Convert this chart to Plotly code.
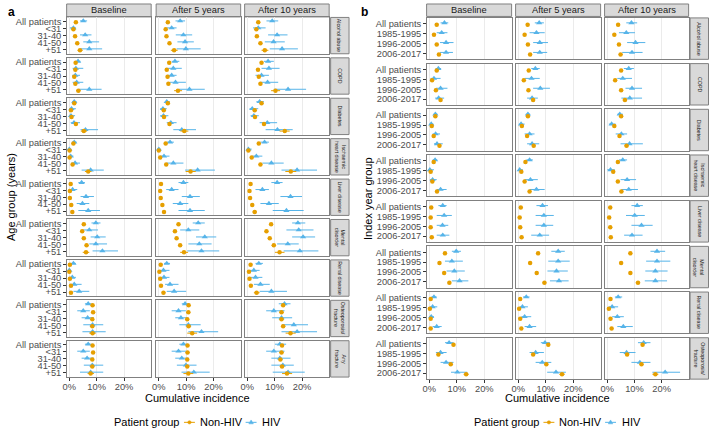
import plotly.graph_objects as go

W, H = 709, 431
FONT = "Liberation Sans, Arial, Helvetica, sans-serif"
C_NON = "#E69F00"
C_HIV = "#56B4E9"
GRID = "#EBEBEB"
BORDER = "#808080"
STRIP_FILL = "#D9D9D9"

PERIODS = ["Baseline", "After 5 years", "After 10 years"]
TICK_VALS = [0, 10, 20]
TICK_TEXT = ["0%", "10%", "20%"]
LEGEND_TITLE = "Patient group"
SERIES_NAMES = ["Non-HIV", "HIV"]

# ---------------- Panel a: by age group ----------------
A_CONDITIONS = ["Alcohol abuse", "COPD", "Diabetes", "Ischaemic<br>heart disease", "Liver disease",
                "Mental<br>disorder", "Renal disease", "Osteoporosis/<br>fracture", "Any<br>fracture"]
A_GROUPS = ["All patients", "<31", "31-40", "41-50", "+51"]

# Non-HIV, baseline (rows = conditions, cols = age groups), percent
A_NON_EST_BASE = [[2.4, 1.5, 2.1, 2.9, 3.9], [2.3, 2.2, 1.8, 2.2, 3.3], [1.8, 0.6, 0.8, 2.4, 5.3],
                  [1.5, 0.1, 0.1, 1.2, 6.9], [0.5, 0.2, 0.2, 0.7, 1.1], [5.3, 4.7, 5.3, 6.3, 6.1],
                  [0.2, 0.0, 0.2, 0.6, 0.6], [8.5, 8.7, 8.4, 8.4, 8.5], [8.5, 8.7, 8.4, 8.4, 7.8]]
A_NON_LO_BASE = [[2.2, 1.1, 1.8, 2.5, 3.0], [2.1, 1.8, 1.5, 1.8, 2.5], [1.6, 0.4, 0.6, 2.0, 4.2],
                 [1.3, 0.0, 0.0, 0.9, 5.7], [0.4, 0.1, 0.1, 0.5, 0.6], [5.0, 4.2, 4.9, 5.7, 4.9],
                 [0.1, 0.0, 0.1, 0.4, 0.2], [8.2, 8.1, 8.0, 7.8, 7.3], [8.2, 8.1, 8.0, 7.8, 6.7]]
A_NON_HI_BASE = [[2.6, 1.9, 2.4, 3.3, 4.9], [2.5, 2.6, 2.1, 2.6, 4.2], [2.0, 0.8, 1.0, 2.8, 6.5],
                 [1.7, 0.2, 0.3, 1.5, 8.1], [0.6, 0.3, 0.3, 0.9, 1.6], [5.6, 5.2, 5.7, 6.9, 7.3],
                 [0.3, 0.1, 0.3, 0.8, 1.0], [8.8, 9.3, 8.8, 9.0, 9.7], [8.8, 9.3, 8.8, 9.0, 9.0]]
A_HIV_EST_BASE = [[5.1, 1.5, 5.8, 7.3, 7.3], [3.2, 2.4, 2.2, 2.7, 7.3], [1.8, 0.8, 0.6, 1.7, 5.9],
                  [1.8, 0.0, 0.5, 2.1, 7.8], [4.5, 1.2, 6.1, 4.8, 6.9], [9.7, 7.3, 10.2, 9.7, 12.1],
                  [1.5, 0.0, 1.1, 1.8, 3.6], [6.9, 5.1, 6.7, 8.5, 8.5], [6.9, 5.1, 6.5, 8.4, 7.8]]
A_HIV_LO_BASE = [[3.9, 0.2, 3.9, 5.1, 4.1], [2.2, 1.2, 1.0, 1.2, 3.6], [1.0, 0.0, 0.0, 0.5, 4.1],
                 [1.0, 0.0, 0.0, 0.7, 4.5], [3.3, 0.0, 4.1, 2.7, 3.3], [8.1, 5.1, 7.8, 7.3, 8.5],
                 [0.5, 0.0, 0.0, 0.2, 1.5], [5.7, 2.9, 4.5, 5.1, 4.8], [5.7, 2.9, 4.5, 5.3, 3.9]]
A_HIV_HI_BASE = [[6.5, 2.4, 8.1, 10.9, 12.0], [4.1, 5.1, 3.9, 5.1, 11.8], [2.7, 2.4, 2.1, 3.9, 10.5],
                 [2.7, 0.4, 1.5, 3.9, 12.6], [5.7, 2.9, 9.0, 7.3, 11.2], [11.4, 10.5, 13.3, 13.8, 17.8],
                 [2.4, 0.5, 2.4, 4.5, 7.3], [8.1, 7.5, 9.0, 12.4, 13.3], [8.1, 7.5, 9.0, 12.4, 12.4]]

A_NON_EST_5Y = [[3.3, 2.5, 2.8, 3.9, 5.6], [3.8, 2.9, 3.2, 3.5, 7.0], [3.3, 1.8, 1.9, 3.9, 9.3],
                [2.5, 0.0, 0.5, 2.7, 11.6], [0.8, 0.5, 0.7, 1.3, 1.9], [7.2, 5.9, 6.5, 7.8, 9.2],
                [0.7, 0.2, 0.5, 0.8, 1.7], [10.9, 10.8, 10.4, 10.9, 12.2], [10.5, 10.5, 10.4, 10.4, 10.8]]
A_NON_LO_5Y = [[3.1, 2.1, 2.4, 3.4, 4.4], [3.6, 2.5, 2.8, 3.0, 5.6], [3.1, 1.5, 1.6, 3.4, 7.9],
               [2.3, 0.0, 0.3, 2.3, 9.8], [0.7, 0.3, 0.5, 1.0, 1.3], [6.9, 5.3, 6.0, 7.1, 7.8],
               [0.6, 0.1, 0.3, 0.6, 1.1], [10.6, 10.1, 9.9, 10.2, 10.4], [10.2, 9.8, 9.9, 9.7, 9.0]]
A_NON_HI_5Y = [[3.5, 2.9, 3.2, 4.4, 6.9], [4.0, 3.3, 3.6, 4.0, 8.5], [3.5, 2.1, 2.2, 4.4, 10.8],
               [2.7, 0.2, 0.7, 3.1, 13.5], [0.9, 0.7, 0.9, 1.6, 2.6], [7.5, 6.5, 7.0, 8.5, 10.7],
               [0.8, 0.3, 0.7, 1.0, 2.4], [11.2, 11.5, 10.9, 11.6, 14.0], [10.8, 11.2, 10.9, 11.1, 12.6]]
A_HIV_EST_5Y = [[7.8, 4.7, 9.0, 9.6, 9.9], [5.9, 5.3, 4.7, 6.1, 11.2], [2.9, 1.5, 1.7, 4.4, 8.4],
                [4.1, 0.0, 1.9, 5.3, 14.2], [9.0, 4.7, 11.4, 7.8, 11.4], [14.4, 10.8, 16.8, 14.8, 15.6],
                [2.9, 1.7, 1.9, 4.1, 5.6], [9.6, 7.2, 8.1, 10.8, 15.6], [9.0, 7.2, 8.4, 9.9, 12.8]]
A_HIV_LO_5Y = [[6.1, 2.9, 6.2, 6.8, 6.5], [4.7, 3.2, 3.2, 4.1, 7.4], [2.2, 0.5, 0.5, 2.9, 5.3],
               [2.9, 0.0, 0.5, 2.9, 9.6], [7.2, 2.7, 8.4, 5.1, 7.2], [12.4, 7.8, 13.6, 10.8, 10.4],
               [1.9, 0.5, 0.7, 2.3, 2.9], [8.4, 4.7, 6.0, 7.5, 10.8], [7.5, 4.7, 6.0, 6.6, 8.3]]
A_HIV_HI_5Y = [[9.6, 6.5, 12.2, 12.8, 15.3], [7.5, 8.4, 6.5, 9.9, 16.8], [4.1, 2.9, 3.5, 6.5, 13.6],
               [5.5, 0.5, 3.9, 9.0, 20.5], [10.8, 7.2, 15.0, 10.8, 16.8], [16.8, 14.8, 21.0, 19.3, 22.1],
               [4.1, 3.9, 3.9, 7.2, 10.0], [11.2, 9.9, 10.4, 15.3, 21.7], [10.5, 9.9, 10.8, 13.8, 18.6]]

A_NON_EST_10Y = [[4.0, 3.3, 3.5, 4.8, 6.4], [5.2, 3.9, 4.2, 4.8, 10.3], [5.2, 2.7, 2.8, 6.1, 13.7],
                 [4.2, 0.4, 1.6, 4.8, 15.9], [1.2, 0.8, 1.0, 1.8, 2.7], [8.7, 7.0, 8.2, 9.7, 11.8],
                 [1.2, 0.6, 0.8, 1.3, 3.4], [13.1, 12.5, 12.5, 13.1, 15.8], [12.7, 12.5, 12.1, 12.7, 14.5]]
A_NON_LO_10Y = [[3.8, 2.8, 3.1, 4.2, 5.2], [5.0, 3.4, 3.8, 4.2, 8.7], [5.0, 2.3, 2.4, 5.5, 11.8],
                [4.0, 0.2, 1.3, 4.2, 13.9], [1.1, 0.6, 0.8, 1.4, 1.9], [8.4, 6.4, 7.7, 8.9, 10.1],
                [1.1, 0.4, 0.6, 1.0, 2.4], [12.8, 11.7, 11.9, 12.3, 14.0], [12.4, 11.7, 11.5, 11.9, 12.7]]
A_NON_HI_10Y = [[4.2, 3.8, 3.9, 5.4, 7.7], [5.4, 4.4, 4.6, 5.4, 12.0], [5.4, 3.1, 3.2, 6.7, 15.5],
                [4.4, 0.6, 1.9, 5.4, 17.9], [1.3, 1.0, 1.2, 2.2, 3.5], [9.0, 7.6, 8.7, 10.5, 13.6],
                [1.3, 0.8, 1.0, 1.6, 4.5], [13.4, 13.3, 13.1, 13.9, 17.7], [13.0, 13.3, 12.7, 13.5, 16.4]]
A_HIV_EST_10Y = [[9.1, 4.0, 10.9, 9.6, 12.7], [7.6, 7.9, 5.2, 7.4, 14.9], [4.5, 1.8, 2.4, 7.3, 11.0],
                 [6.3, 0.4, 3.3, 8.8, 18.2], [10.9, 5.5, 15.8, 7.9, 14.3], [18.5, 18.8, 20.4, 14.8, 19.2],
                 [4.2, 2.4, 3.0, 4.8, 8.8], [13.6, 9.7, 12.5, 17.0, 18.2], [11.9, 9.7, 11.9, 13.0, 14.9]]
A_HIV_LO_10Y = [[7.0, 2.1, 7.6, 6.4, 8.2], [6.1, 5.2, 3.0, 4.8, 9.7], [3.3, 0.8, 1.2, 4.5, 6.7],
                [4.8, 0.0, 1.8, 5.5, 12.5], [8.8, 3.0, 12.1, 4.8, 9.3], [16.4, 14.3, 16.4, 10.9, 13.3],
                [3.0, 0.8, 1.2, 2.4, 4.5], [11.5, 6.9, 9.1, 12.7, 12.5], [10.1, 6.9, 8.8, 8.8, 9.3]]
A_HIV_HI_10Y = [[11.3, 6.7, 14.7, 13.7, 18.5], [9.7, 11.8, 7.9, 11.3, 21.5], [6.1, 4.0, 4.2, 10.9, 16.6],
                [7.9, 1.6, 5.5, 13.3, 25.5], [12.9, 7.9, 20.0, 11.5, 20.6], [21.2, 24.2, 24.8, 18.8, 26.0],
                [5.7, 4.5, 5.5, 8.2, 14.5], [15.8, 13.6, 16.4, 22.2, 25.5], [14.2, 13.6, 15.8, 17.0, 21.0]]

# ---------------- Panel b: by index year group ----------------
B_CONDITIONS = ["Alcohol abuse", "COPD", "Diabetes", "Ischaemic<br>heart disease", "Liver disease",
                "Mental<br>disorder", "Renal disease", "Osteoporosis/<br>fracture"]
B_GROUPS = ["All patients", "1985-1995", "1996-2005", "2006-2017"]

B_NON_EST_BASE = [[2.7, 1.7, 2.7, 3.5], [2.7, 1.0, 2.4, 4.1], [2.2, 0.9, 1.6, 3.7], [1.6, 0.5, 1.1, 2.8],
                  [0.7, 0.5, 0.5, 0.9], [5.7, 3.7, 5.4, 7.3], [0.5, 0.2, 0.5, 0.5], [8.8, 3.3, 7.8, 13.4]]
B_NON_LO_BASE = [[2.5, 1.4, 2.4, 3.0], [2.5, 0.8, 2.1, 3.6], [2.0, 0.7, 1.3, 3.2], [1.4, 0.3, 0.9, 2.4],
                 [0.6, 0.3, 0.4, 0.7], [5.4, 3.2, 5.0, 6.7], [0.4, 0.1, 0.4, 0.3], [8.5, 2.8, 7.3, 12.5]]
B_NON_HI_BASE = [[2.9, 2.0, 3.0, 4.0], [2.9, 1.2, 2.7, 4.6], [2.4, 1.1, 1.9, 4.2], [1.8, 0.7, 1.3, 3.2],
                 [0.8, 0.7, 0.6, 1.1], [6.0, 4.2, 5.8, 7.9], [0.6, 0.3, 0.6, 0.7], [9.1, 3.8, 8.3, 14.3]]
B_HIV_EST_BASE = [[5.5, 4.5, 6.1, 6.1], [3.3, 1.7, 4.1, 3.4], [2.2, 0.7, 2.3, 2.8], [2.1, 0.2, 1.2, 4.1],
                  [4.9, 5.4, 4.8, 4.9], [9.8, 8.2, 9.1, 11.0], [1.7, 1.2, 0.7, 2.7], [7.2, 4.1, 6.1, 10.2]]
B_HIV_LO_BASE = [[4.1, 2.7, 3.9, 3.9], [2.3, 0.5, 2.4, 2.1], [1.5, 0.0, 1.2, 1.7], [1.2, 0.0, 0.2, 2.7],
                 [3.3, 2.7, 2.7, 2.7], [8.2, 5.7, 6.3, 8.2], [0.7, 0.2, 0.0, 1.2], [5.7, 2.4, 4.1, 7.9]]
B_HIV_HI_BASE = [[6.9, 6.6, 8.8, 8.6], [4.3, 4.1, 6.6, 5.4], [3.0, 1.5, 3.9, 4.9], [2.9, 1.7, 2.7, 6.3],
                 [6.3, 8.2, 6.9, 7.3], [11.5, 12.2, 12.9, 14.2], [2.7, 2.9, 1.7, 4.5], [8.8, 6.3, 8.8, 13.8]]

B_NON_EST_5Y = [[3.4, 2.3, 3.5, 4.3], [3.8, 2.0, 3.7, 5.4], [3.5, 1.3, 3.2, 5.6], [2.6, 1.1, 2.3, 4.1],
                [0.9, 0.5, 0.7, 1.2], [7.2, 4.3, 6.7, 9.5], [0.7, 0.3, 0.7, 1.1], [10.9, 5.4, 10.2, 15.9]]
B_NON_LO_5Y = [[3.2, 2.0, 3.1, 3.7], [3.6, 1.7, 3.3, 4.8], [3.3, 1.0, 2.8, 5.0], [2.4, 0.8, 1.9, 3.5],
               [0.8, 0.3, 0.5, 0.9], [6.9, 3.8, 6.2, 8.8], [0.6, 0.2, 0.5, 0.8], [10.6, 4.8, 9.6, 14.9]]
B_NON_HI_5Y = [[3.6, 2.6, 3.9, 4.9], [4.0, 2.3, 4.1, 6.0], [3.7, 1.6, 3.6, 6.2], [2.8, 1.4, 2.7, 4.7],
               [1.0, 0.7, 0.9, 1.5], [7.5, 4.8, 7.2, 10.2], [0.8, 0.4, 0.9, 1.4], [11.2, 6.0, 10.8, 16.9]]
B_HIV_EST_5Y = [[7.6, 6.6, 7.8, 7.8], [6.2, 4.8, 8.0, 5.0], [3.5, 1.0, 4.1, 5.0], [4.1, 0.5, 4.4, 6.6],
                [8.8, 9.3, 9.3, 7.8], [14.5, 14.5, 13.9, 14.8], [2.9, 1.5, 2.3, 4.1], [9.7, 6.3, 8.7, 13.7]]
B_HIV_LO_5Y = [[6.0, 4.1, 5.4, 5.4], [4.7, 2.3, 5.4, 3.2], [2.7, 0.2, 2.3, 3.2], [2.9, 0.0, 2.3, 4.1],
               [6.6, 6.3, 6.3, 4.7], [12.0, 10.9, 10.6, 11.5], [1.7, 0.5, 1.1, 2.3], [8.2, 4.1, 6.3, 10.5]]
B_HIV_HI_5Y = [[9.3, 9.6, 10.8, 10.5], [7.8, 7.8, 11.5, 7.1], [4.3, 2.3, 5.9, 7.6], [5.3, 1.7, 7.1, 9.6],
               [10.8, 12.9, 12.7, 11.2], [16.9, 18.7, 18.0, 18.3], [4.1, 3.5, 4.7, 6.5], [11.5, 9.3, 12.0, 17.3]]

B_NON_EST_10Y = [[4.0, 2.6, 4.3, 4.9], [5.1, 2.9, 5.1, 6.5], [5.1, 2.6, 4.5, 7.1], [3.9, 2.2, 3.9, 5.2],
                 [1.1, 0.7, 1.1, 1.3], [8.5, 5.1, 8.5, 11.3], [1.2, 0.6, 1.2, 1.6], [13.0, 7.3, 12.6, 17.7]]
B_NON_LO_10Y = [[3.8, 2.2, 3.9, 4.2], [4.9, 2.5, 4.7, 5.7], [4.9, 2.2, 4.1, 6.3], [3.7, 1.8, 3.5, 4.5],
                [1.0, 0.5, 0.9, 1.0], [8.2, 4.6, 8.0, 10.5], [1.1, 0.4, 1.0, 1.2], [12.7, 6.6, 12.0, 16.6]]
B_NON_HI_10Y = [[4.2, 3.0, 4.7, 5.6], [5.3, 3.3, 5.5, 7.3], [5.3, 3.0, 4.9, 7.9], [4.1, 2.6, 4.3, 5.9],
                [1.2, 0.9, 1.3, 1.6], [8.8, 5.6, 9.0, 12.1], [1.3, 0.8, 1.4, 2.0], [13.3, 8.0, 13.2, 18.8]]
B_HIV_EST_10Y = [[8.9, 7.0, 10.4, 9.1], [7.9, 5.7, 9.1, 8.3], [4.6, 1.6, 5.2, 8.2], [5.7, 1.2, 7.3, 7.9],
                 [11.0, 10.1, 12.6, 9.1], [18.3, 18.3, 17.7, 17.7], [4.0, 1.8, 3.7, 5.9], [13.4, 7.1, 12.0, 21.3]]
B_HIV_LO_10Y = [[7.0, 4.3, 7.3, 5.5], [6.1, 3.7, 6.7, 5.2], [3.7, 0.6, 3.1, 4.9], [4.3, 0.0, 4.9, 5.2],
                [8.9, 6.9, 8.9, 6.2], [15.9, 14.3, 14.0, 13.8], [2.8, 0.6, 1.8, 3.7], [11.3, 4.6, 8.9, 16.6]]
B_HIV_HI_10Y = [[11.0, 10.2, 14.0, 13.0], [9.8, 9.1, 12.8, 12.8], [5.8, 3.1, 7.3, 13.1], [7.3, 2.8, 10.6, 11.3],
                [13.1, 13.8, 16.7, 13.0], [21.3, 23.2, 22.2, 22.0], [5.5, 4.0, 6.1, 9.4], [15.9, 10.4, 15.9, 26.8]]

A_DATA = [
    (A_NON_EST_BASE, A_NON_LO_BASE, A_NON_HI_BASE, A_HIV_EST_BASE, A_HIV_LO_BASE, A_HIV_HI_BASE),
    (A_NON_EST_5Y, A_NON_LO_5Y, A_NON_HI_5Y, A_HIV_EST_5Y, A_HIV_LO_5Y, A_HIV_HI_5Y),
    (A_NON_EST_10Y, A_NON_LO_10Y, A_NON_HI_10Y, A_HIV_EST_10Y, A_HIV_LO_10Y, A_HIV_HI_10Y),
]
B_DATA = [
    (B_NON_EST_BASE, B_NON_LO_BASE, B_NON_HI_BASE, B_HIV_EST_BASE, B_HIV_LO_BASE, B_HIV_HI_BASE),
    (B_NON_EST_5Y, B_NON_LO_5Y, B_NON_HI_5Y, B_HIV_EST_5Y, B_HIV_LO_5Y, B_HIV_HI_5Y),
    (B_NON_EST_10Y, B_NON_LO_10Y, B_NON_HI_10Y, B_HIV_EST_10Y, B_HIV_LO_10Y, B_HIV_HI_10Y),
]

X_RANGE = [-0.98, 29.93]
DODGE = 0.1

fig = go.Figure()
axes = {}
shapes = []
annotations = []


def pxx(x):
    return x / W


def pxy(y):
    return 1 - y / H


def add_panel(start_idx, cols, strip_x, head_y, row_top0, row_pitch, row_h,
              conditions, groups, data):
    n = len(groups)
    pos = list(range(1, n + 1))
    idx = start_idx
    nrows = len(conditions)
    for c, (cx0, cx1) in enumerate(cols):
        shapes.append(dict(type="rect", xref="paper", yref="paper", x0=pxx(cx0), x1=pxx(cx1),
                           y0=pxy(head_y[1]), y1=pxy(head_y[0]), fillcolor=STRIP_FILL,
                           line=dict(color=BORDER, width=1), layer="below"))
        annotations.append(dict(text=PERIODS[c], xref="paper", yref="paper",
                                x=pxx((cx0 + cx1) / 2), y=pxy((head_y[0] + head_y[1]) / 2),
                                showarrow=False, xanchor="center", yanchor="middle",
                                font=dict(family=FONT, size=9.3, color="#1A1A1A")))
    for r, cond in enumerate(conditions):
        y0 = row_top0 + r * row_pitch
        y1 = y0 + row_h
        shapes.append(dict(type="rect", xref="paper", yref="paper", x0=pxx(strip_x[0]), x1=pxx(strip_x[1]),
                           y0=pxy(y1), y1=pxy(y0), fillcolor=STRIP_FILL,
                           line=dict(color=BORDER, width=1), layer="below"))
        annotations.append(dict(text=cond, xref="paper", yref="paper",
                                x=pxx((strip_x[0] + strip_x[1]) / 2), y=pxy((y0 + y1) / 2),
                                showarrow=False, textangle=90, xanchor="center", yanchor="middle",
                                borderpad=0,
                                font=dict(family=FONT, size=5.3, color="#1A1A1A")))
        for c, (cx0, cx1) in enumerate(cols):
            xa = "x" if idx == 1 else f"x{idx}"
            ya = "y" if idx == 1 else f"y{idx}"
            xkey = "xaxis" if idx == 1 else f"xaxis{idx}"
            ykey = "yaxis" if idx == 1 else f"yaxis{idx}"
            bottom = (r == nrows - 1)
            first = (c == 0)
            axes[xkey] = dict(domain=[pxx(cx0), pxx(cx1)], anchor=ya, range=X_RANGE,
                              tickmode="array", tickvals=TICK_VALS, ticktext=TICK_TEXT,
                              showticklabels=bottom, ticks="outside" if bottom else "",
                              ticklen=2.5, tickwidth=1, tickcolor="#333333",
                              ticklabelstandoff=-2,
                              tickfont=dict(family=FONT, size=9.3, color="#4D4D4D"),
                              showgrid=True, gridcolor=GRID, gridwidth=1, zeroline=False,
                              showline=True, mirror=True, linecolor=BORDER, linewidth=1,
                              fixedrange=True)
            axes[ykey] = dict(domain=[pxy(y1), pxy(y0)], anchor=xa, range=[n + 0.6, 0.4],
                              tickmode="array", tickvals=pos, ticktext=groups,
                              showticklabels=first, ticks="outside" if first else "",
                              ticklen=2.5, tickwidth=1, tickcolor="#333333",
                              tickfont=dict(family=FONT, size=9.3, color="#4D4D4D"),
                              showgrid=False, zeroline=False,
                              showline=True, mirror=True, linecolor=BORDER, linewidth=1,
                              fixedrange=True)
            ne, nl, nh, he, hl, hh = data[c]
            fig.add_trace(go.Scatter(
                x=he[r], y=[p - DODGE for p in pos], mode="markers", xaxis=xa, yaxis=ya,
                name=SERIES_NAMES[1],
                marker=dict(symbol="triangle-up", size=5.5, color=C_HIV),
                error_x=dict(type="data", symmetric=False,
                             array=[h - e for h, e in zip(hh[r], he[r])],
                             arrayminus=[e - l for e, l in zip(he[r], hl[r])],
                             color=C_HIV, thickness=1, width=0),
                showlegend=False, hoverinfo="skip"))
            fig.add_trace(go.Scatter(
                x=ne[r], y=[p + DODGE for p in pos], mode="markers", xaxis=xa, yaxis=ya,
                name=SERIES_NAMES[0],
                marker=dict(symbol="circle", size=4.5, color=C_NON),
                error_x=dict(type="data", symmetric=False,
                             array=[h - e for h, e in zip(nh[r], ne[r])],
                             arrayminus=[e - l for e, l in zip(ne[r], nl[r])],
                             color=C_NON, thickness=1, width=0),
                showlegend=False, hoverinfo="skip"))
            idx += 1
    return idx


next_idx = add_panel(1, [(63, 148), (153, 238), (242, 327)], (328.5, 347), (3, 16),
                     16.5, 40.6, 36.5, A_CONDITIONS, A_GROUPS, A_DATA)
b_first = next_idx
add_panel(b_first, [(425, 510.5), (514.5, 600), (604, 688.5)], (690, 708.5), (3, 15.5),
          17, 45.9, 41.6, B_CONDITIONS, B_GROUPS, B_DATA)


def add_legend(dx):
    ly = 423.3
    lf = dict(family=FONT, size=11, color="black")
    annotations.append(dict(text=LEGEND_TITLE, xref="paper", yref="paper", x=pxx(110 + dx), y=pxy(ly),
                            xanchor="left", yanchor="middle", showarrow=False, borderpad=0, font=lf))
    annotations.append(dict(text=SERIES_NAMES[0], xref="paper", yref="paper", x=pxx(196 + dx), y=pxy(ly),
                            xanchor="left", yanchor="middle", showarrow=False, borderpad=0, font=lf))
    annotations.append(dict(text=SERIES_NAMES[1], xref="paper", yref="paper", x=pxx(258.5 + dx), y=pxy(ly),
                            xanchor="left", yanchor="middle", showarrow=False, borderpad=0, font=lf))
    shapes.append(dict(type="line", xref="paper", yref="paper", x0=pxx(181 + dx), x1=pxx(192 + dx),
                       y0=pxy(ly), y1=pxy(ly), line=dict(color=C_NON, width=1)))
    shapes.append(dict(type="circle", xref="paper", yref="paper", x0=pxx(184.8 + dx), x1=pxx(188.2 + dx),
                       y0=pxy(ly + 1.7), y1=pxy(ly - 1.7), fillcolor=C_NON, line=dict(color=C_NON, width=0.5)))
    shapes.append(dict(type="line", xref="paper", yref="paper", x0=pxx(243 + dx), x1=pxx(254 + dx),
                       y0=pxy(ly), y1=pxy(ly), line=dict(color=C_HIV, width=1)))
    cx = 248.5 + dx
    path = (f"M {pxx(cx - 2.3)} {pxy(ly + 1.5)} L {pxx(cx + 2.3)} {pxy(ly + 1.5)} "
            f"L {pxx(cx)} {pxy(ly - 2.4)} Z")
    shapes.append(dict(type="path", xref="paper", yref="paper", path=path,
                       fillcolor=C_HIV, line=dict(color=C_HIV, width=0.5)))


add_legend(0)
add_legend(361.5)

annotations += [
    dict(text="<b>a</b>", xref="paper", yref="paper", x=pxx(2), y=pxy(2), xanchor="left", yanchor="top",
         showarrow=False, font=dict(family=FONT, size=12, color="black")),
    dict(text="<b>b</b>", xref="paper", yref="paper", x=pxx(357), y=pxy(2), xanchor="left", yanchor="top",
         showarrow=False, font=dict(family=FONT, size=12, color="black")),
    dict(text="Cumulative incidence", xref="paper", yref="paper", x=pxx(195), y=pxy(398.5),
         xanchor="center", yanchor="middle", showarrow=False, borderpad=0,
         font=dict(family=FONT, size=11, color="black")),
    dict(text="Cumulative incidence", xref="paper", yref="paper", x=pxx(557), y=pxy(398.5),
         xanchor="center", yanchor="middle", showarrow=False, borderpad=0,
         font=dict(family=FONT, size=11, color="black")),
    dict(text="Age group (years)", xref="paper", yref="paper", x=pxx(7), y=pxy(197), textangle=-90,
         xanchor="center", yanchor="middle", showarrow=False, font=dict(family=FONT, size=11, color="black")),
    dict(text="Index year group", xref="paper", yref="paper", x=pxx(366), y=pxy(198), textangle=-90,
         xanchor="center", yanchor="middle", showarrow=False, font=dict(family=FONT, size=11, color="black")),
]

fig.update_layout(
    width=W, height=H, autosize=False,
    margin=dict(l=0, r=0, t=0, b=0),
    paper_bgcolor="white", plot_bgcolor="white",
    font=dict(family=FONT),
    showlegend=False,
    shapes=shapes, annotations=annotations,
    **axes,
)

fig.write_html("out.html",
               config={"displayModeBar": False, "staticPlot": True},
               post_script="document.body.style.margin='0px';document.body.style.padding='0px';"
                           "document.documentElement.style.overflow='hidden';")
